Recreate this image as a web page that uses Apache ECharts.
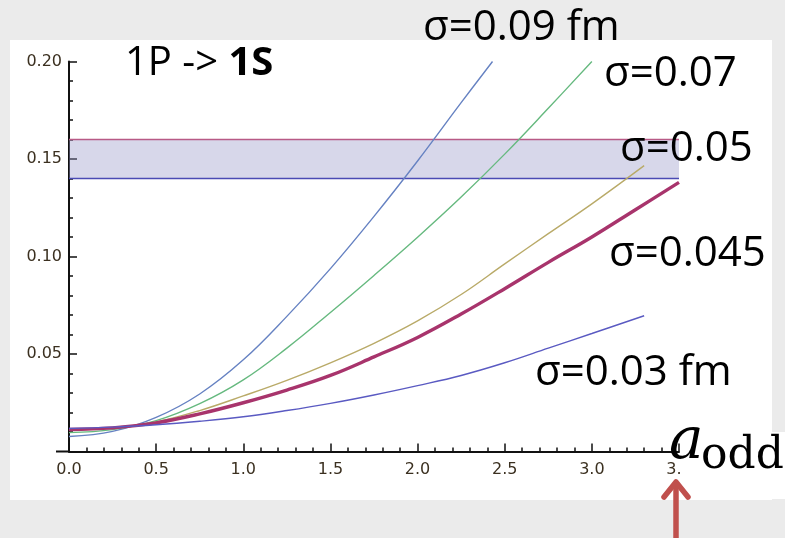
<!DOCTYPE html>
<html>
<head>
<meta charset="utf-8">
<script src="https://cdn.jsdelivr.net/npm/echarts@6/dist/echarts.min.js"></script>
<style>
  html, body { margin: 0; padding: 0; background: #ebebeb; }
  #chart { width: 785px; height: 538px; }
</style>
</head>
<body>
<div id="chart"></div>
<script>
// 1P -> 1S curves versus a_odd, one curve per smearing width sigma
const x009 = [0, 0.25, 0.5, 0.75, 1.0, 1.25, 1.5, 1.75, 2.0, 2.25, 2.43];
const y009 = [0.0077, 0.0103, 0.0175, 0.0295, 0.047, 0.0693, 0.0938, 0.1206, 0.149, 0.1789, 0.2];

const x007 = [0, 0.25, 0.5, 0.75, 1.0, 1.25, 1.5, 1.75, 2.0, 2.25, 2.5, 2.75, 3.0];
const y007 = [0.0097, 0.0112, 0.0158, 0.0245, 0.0367, 0.053, 0.0713, 0.0903, 0.1099, 0.1305, 0.1525, 0.176, 0.2];

const x005 = [0, 0.25, 0.5, 0.75, 1.0, 1.25, 1.5, 1.75, 2.0, 2.25, 2.5, 2.75, 3.0, 3.3];
const y005 = [0.0113, 0.0122, 0.0152, 0.021, 0.0285, 0.0365, 0.0455, 0.0555, 0.067, 0.0805, 0.0962, 0.1117, 0.127, 0.1466];

const x0045 = [0, 0.25, 0.5, 0.75, 1.0, 1.25, 1.5, 1.75, 2.0, 2.25, 2.5, 2.75, 3.0, 3.25, 3.5];
const y0045 = [0.0113, 0.0121, 0.0147, 0.0193, 0.025, 0.0315, 0.039, 0.0485, 0.0585, 0.0705, 0.0835, 0.097, 0.110, 0.124, 0.138];

const x003 = [0, 0.25, 0.5, 0.75, 1.0, 1.25, 1.5, 1.75, 2.0, 2.25, 2.5, 2.75, 3.0, 3.3];
const y003 = [0.0118, 0.0125, 0.0137, 0.0155, 0.0178, 0.021, 0.0247, 0.029, 0.0338, 0.039, 0.0455, 0.053, 0.0605, 0.0696];

// experimental band
const bandX = [0, 3.5];
const bandLow = 0.14;
const bandHigh = 0.16;

const pairs = (xs, ys) => xs.map((x, i) => [x, ys[i]]);

const tickFont = { fontFamily: 'DejaVu Sans', fontSize: 16, color: '#3b3020' };

function curve(name, xs, ys, color, width) {
  return {
    name, type: 'line', data: pairs(xs, ys), smooth: 0.4, showSymbol: false,
    lineStyle: { color, width }, z: 5, silent: true
  };
}

const chart = echarts.init(document.getElementById('chart'), null, { renderer: 'canvas' });

const option = {
  backgroundColor: '#ebebeb',
  animation: false,
  grid: { left: 69, right: 106, top: 61.5, bottom: 86.5 },
  xAxis: {
    type: 'value', min: 0, max: 3.5, interval: 0.5,
    axisLine: { onZero: true, lineStyle: { color: '#111', width: 2 } },
    axisTick: { inside: true, length: 8, lineStyle: { color: '#111', width: 1.5 } },
    minorTick: { show: true, splitNumber: 5, length: 4, lineStyle: { color: '#111', width: 1.5 } },
    splitLine: { show: false },
    axisLabel: Object.assign({ margin: 10, formatter: v => v.toFixed(1) }, tickFont)
  },
  yAxis: {
    type: 'value', min: 0, max: 0.2, interval: 0.05,
    axisLine: { show: true, lineStyle: { color: '#111', width: 2 } },
    axisTick: { show: true, inside: true, length: 8, lineStyle: { color: '#111', width: 1.5 } },
    minorTick: { show: true, splitNumber: 5, length: 4, lineStyle: { color: '#111', width: 1.5 } },
    splitLine: { show: false },
    axisLabel: Object.assign({ margin: 7, formatter: v => (v === 0 ? '' : v.toFixed(2)) }, tickFont)
  },
  series: [
    {
      name: 'band-low', type: 'line', data: bandX.map(x => [x, bandLow]), showSymbol: false,
      lineStyle: { color: '#4a4ab4', width: 1.5 }, z: 3, silent: true,
      markArea: {
        silent: true,
        itemStyle: { color: 'rgba(150,150,200,0.38)' },
        data: [[{ xAxis: bandX[0], yAxis: bandLow }, { xAxis: bandX[1], yAxis: bandHigh }]]
      }
    },
    {
      name: 'band-high', type: 'line', data: bandX.map(x => [x, bandHigh]), showSymbol: false,
      lineStyle: { color: '#b85a86', width: 1.5 }, z: 3, silent: true
    },
    curve('σ=0.09', x009, y009, '#6682c2', 1.4),
    curve('σ=0.07', x007, y007, '#66b97f', 1.4),
    curve('σ=0.05', x005, y005, '#b9aa68', 1.4),
    curve('σ=0.045', x0045, y0045, '#a8346c', 3.4),
    curve('σ=0.03', x003, y003, '#5a5ac2', 1.4)
  ]
};

chart.setOption(option);

// decorations laid out around the plot frame
const origin = chart.convertToPixel({ gridIndex: 0 }, [0, 0]);
const sans = 'Open Sans';

function label(text, x, y, size) {
  return {
    type: 'text', x, y, z: 100, silent: true,
    style: { text, fontFamily: sans, fontSize: size, fill: '#000', align: 'left', verticalAlign: 'middle' }
  };
}

chart.setOption({
  graphic: [
    { type: 'rect', z: -10, silent: true, shape: { x: 10, y: 40, width: 762, height: 460 }, style: { fill: '#ffffff' } },
    { type: 'line', z: 10, silent: true,
      shape: { x1: origin[0] - 13, y1: origin[1], x2: origin[0], y2: origin[1] },
      style: { stroke: '#111', lineWidth: 2 } },
    { type: 'rect', z: 50, silent: true, shape: { x: 680, y: 432, width: 105, height: 67 }, style: { fill: '#ffffff' } },
    {
      type: 'text', x: 125, y: 64, z: 100, silent: true,
      style: {
        text: '{n|1P -> }{b|1S}', align: 'left', verticalAlign: 'middle',
        rich: {
          n: { fontFamily: sans, fontSize: 40, fill: '#000', fontWeight: 'normal' },
          b: { fontFamily: sans, fontSize: 40, fill: '#000', fontWeight: 'bold' }
        }
      }
    },
    label('σ=0.09 fm', 423, 28, 42),
    label('σ=0.07', 604, 74, 42),
    label('σ=0.05', 620, 149, 42),
    label('σ=0.045', 609, 254, 42),
    label('σ=0.03 fm', 535, 373, 42),
    {
      type: 'text', x: 669, y: 443, z: 101, silent: true,
      style: { text: 'a', fontFamily: 'DejaVu Serif', fontStyle: 'italic', fontSize: 58, fill: '#000', align: 'left', verticalAlign: 'middle' }
    },
    {
      type: 'text', x: 701, y: 457, z: 101, silent: true,
      style: { text: 'odd', fontFamily: 'DejaVu Serif', fontSize: 44, fill: '#000', align: 'left', verticalAlign: 'middle' }
    },
    { type: 'line', z: 110, silent: true, shape: { x1: 676, y1: 484, x2: 676, y2: 545 },
      style: { stroke: '#c0504d', lineWidth: 5.5 } },
    { type: 'polyline', z: 110, silent: true, shape: { points: [[664, 497], [676, 482], [688, 497]] },
      style: { stroke: '#c0504d', lineWidth: 5.5, fill: null, lineCap: 'round', lineJoin: 'round' } }
  ]
});
</script>
</body>
</html>
